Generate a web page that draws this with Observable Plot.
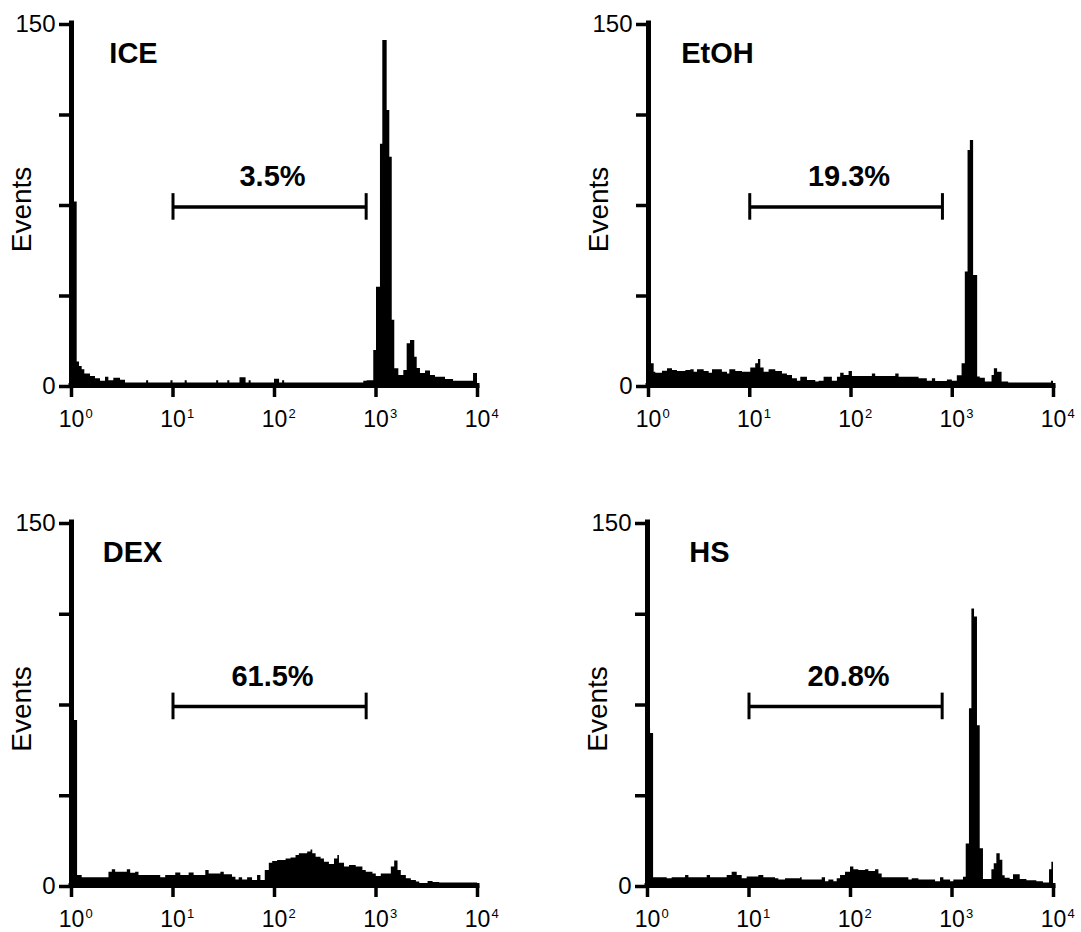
<!DOCTYPE html>
<html><head><meta charset="utf-8">
<script src="https://cdn.jsdelivr.net/npm/d3@7"></script>
<script src="https://cdn.jsdelivr.net/npm/@observablehq/plot@0.6"></script>
<style>
body{margin:0;background:#fff;width:1081px;height:932px;overflow:hidden;position:relative;font-family:"Liberation Sans",Arial,Helvetica,sans-serif;}
.panel{position:absolute;}
</style></head><body>
<div id="p0" class="panel" style="left:0px;top:0px"></div>
<div id="p1" class="panel" style="left:577px;top:0px"></div>
<div id="p2" class="panel" style="left:0px;top:499px"></div>
<div id="p3" class="panel" style="left:576px;top:499px"></div>
<script>
// ---- data ----
const xTickValues = [1, 10, 100, 1000, 10000];
const xTickExponents = ["0", "1", "2", "3", "4"];
const yTicks = [0, 37.5, 75, 112.5, 150];
const yTickLabeled = [0, 150];
const titles = ["ICE", "EtOH", "DEX", "HS"];
const gatePercents = ["3.5%", "19.3%", "61.5%", "20.8%"];
const gateRange = [10, 800];
const gateLevel = 74;
const yLabel = "Events";

// histogram bins: start position (log10 of channel) and event count
const iceD = [0, 0.056, 0.079, 0.105, 0.131, 0.187, 0.236, 0.286, 0.335, 0.368, 0.417, 0.483, 0.532, 0.74, 0.76, 0.98, 1.0, 1.12, 1.14, 1.43, 1.45, 1.54, 1.56, 1.66, 1.72, 1.75, 1.77, 2.0, 2.05, 2.08, 2.10, 2.88, 2.913, 2.978, 3.005, 3.044, 3.067, 3.110, 3.136, 3.160, 3.185, 3.225, 3.274, 3.307, 3.340, 3.382, 3.406, 3.438, 3.488, 3.537, 3.586, 3.685, 3.764, 3.961, 4.0];
const iceC = [76, 9.7, 7.9, 6.5, 4.8, 3.7, 2.8, 1.8, 3.4, 2, 3.0, 2.2, 1, 2, 1, 2, 1, 2, 1, 2, 1, 2, 1, 3.2, 1, 2, 1, 2.6, 1, 2, 1, 1.8, 2, 14.5, 40.7, 100, 143, 114, 94.6, 27, 6.9, 4.1, 6.2, 17.3, 18.6, 11.7, 7, 5, 6, 4.1, 3.4, 2.5, 1.8, 5, 5];

const etohD = [0, 0.023, 0.056, 0.072, 0.138, 0.188, 0.237, 0.286, 0.369, 0.418, 0.451, 0.484, 0.550, 0.599, 0.632, 0.730, 0.780, 0.803, 0.862, 0.928, 1.010, 1.059, 1.086, 1.109, 1.142, 1.191, 1.257, 1.323, 1.372, 1.422, 1.471, 1.504, 1.570, 1.652, 1.685, 1.734, 1.816, 1.866, 1.898, 1.932, 1.981, 2.014, 2.211, 2.244, 2.442, 2.475, 2.672, 2.754, 2.804, 2.836, 2.952, 3.001, 3.050, 3.097, 3.129, 3.156, 3.179, 3.211, 3.251, 3.277, 3.327, 3.393, 3.416, 3.448, 3.492, 3.557, 3.98, 4.0];
const etohC = [9.5, 9, 5.5, 5.1, 5.9, 6.9, 6.2, 5.8, 6.2, 6.5, 5.5, 6.5, 5.8, 5.1, 6.5, 5.5, 4.8, 6.5, 5.8, 5.5, 7.3, 9, 10.8, 7.3, 5.5, 6.5, 5.8, 4.8, 4.1, 2.8, 1.8, 3.4, 2.1, 1.4, 1.8, 3.4, 1.8, 3.4, 5.1, 4.1, 5.8, 3.7, 4.8, 3.7, 4.8, 3.4, 2.8, 1.8, 2.8, 1.7, 2.3, 1.8, 4.0, 9, 47, 97.4, 101.5, 45.6, 3.5, 3, 1.5, 4.1, 6.9, 5.5, 1.5, 1, 1.8, 1.8];

const dexD = [0, 0.06, 0.105, 0.369, 0.402, 0.435, 0.550, 0.583, 0.632, 0.665, 0.879, 0.928, 1.027, 1.077, 1.159, 1.208, 1.323, 1.356, 1.472, 1.505, 1.586, 1.620, 1.652, 1.686, 1.735, 1.784, 1.833, 1.866, 1.909, 1.949, 1.982, 2.031, 2.114, 2.163, 2.212, 2.245, 2.327, 2.360, 2.377, 2.410, 2.459, 2.492, 2.541, 2.591, 2.624, 2.640, 2.690, 2.739, 2.805, 2.871, 2.904, 2.970, 3.003, 3.052, 3.151, 3.184, 3.217, 3.249, 3.299, 3.348, 3.398, 3.431, 3.513, 3.562, 3.628, 4.0];
const dexC = [68.2, 4.1, 3.2, 5.5, 6.5, 5.5, 6.5, 5.1, 5.5, 4.1, 3.2, 4.1, 5.2, 4.1, 5.2, 4.1, 6.2, 4.8, 5.5, 4.4, 3.4, 2.3, 3.2, 2.3, 3.2, 2.1, 4.1, 2.1, 6.2, 9.2, 9.9, 10.3, 11, 11.4, 12.4, 13.1, 13.8, 14.7, 13.1, 11.7, 11, 9.6, 8.7, 11, 12.4, 9.2, 7.6, 8.3, 7.6, 6.2, 5.5, 4.8, 3.7, 4.8, 7.6, 10.1, 6.2, 4.1, 2.8, 2.1, 1.4, 0.7, 1.7, 1.2, 1.0, 1.0];

const hsD = [0, 0.03, 0.06, 0.194, 0.243, 0.375, 0.408, 0.588, 0.621, 0.785, 0.834, 0.884, 0.933, 0.982, 1.097, 1.146, 1.261, 1.294, 1.360, 1.508, 1.524, 1.721, 1.754, 1.787, 1.836, 1.869, 1.902, 1.951, 2.000, 2.033, 2.082, 2.148, 2.181, 2.247, 2.280, 2.312, 2.575, 2.608, 2.674, 2.838, 2.887, 2.920, 2.986, 3.018, 3.113, 3.140, 3.172, 3.196, 3.222, 3.251, 3.278, 3.310, 3.393, 3.416, 3.442, 3.475, 3.501, 3.524, 3.573, 3.606, 3.672, 3.738, 3.836, 3.901, 3.961, 3.984, 4.0];
const hsC = [65, 62.8, 3.2, 2.8, 3.2, 4.1, 3.2, 4.1, 3.2, 4.1, 5.5, 4.1, 2.8, 3.5, 4.1, 3.2, 2.8, 2.3, 2.8, 3.2, 2.3, 3.2, 1.6, 2.3, 1.6, 2.8, 4.1, 5.5, 7.6, 6.5, 6.2, 6.5, 5.8, 6.5, 4.8, 3.2, 2.3, 2.8, 2.3, 1.6, 3.2, 2.3, 1.6, 2.3, 3.4, 17.2, 73, 114.3, 111, 66, 15.2, 2.5, 6.5, 9, 13.1, 10.4, 4, 3, 2.5, 4.4, 2.5, 2, 1.6, 1, 6.5, 9.6, 9.6];

// ---- layout (not data) ----
const layouts = [
  {id: "p0", width: 540, height: 470, ml: 71, mr: 63, mt: 23, mb: 85, titleDx: 62},
  {id: "p1", width: 504, height: 470, ml: 71, mr: 28, mt: 23, mb: 85, titleDx: 69},
  {id: "p2", width: 540, height: 433, ml: 71, mr: 63, mt: 23, mb: 47, titleDx: 61},
  {id: "p3", width: 505, height: 433, ml: 71, mr: 28, mt: 23, mb: 47, titleDx: 62}
];
const series = [[iceD, iceC], [etohD, etohC], [dexD, dexC], [hsD, hsC]];
const FONT = '"Liberation Sans", Arial, Helvetica, sans-serif';

series.forEach(([D, C], i) => {
  const L = layouts[i];
  const data = D.map((d, j) => ({x: Math.pow(10, d), y: C[j]}));
  const expData = xTickValues.map((v, j) => ({x: v, e: xTickExponents[j]}));
  const chart = Plot.plot({
    width: L.width, height: L.height,
    marginLeft: L.ml, marginRight: L.mr, marginTop: L.mt, marginBottom: L.mb,
    style: {fontFamily: FONT, background: "white", color: "black", overflow: "visible"},
    x: {type: "log", domain: [1, 10000], axis: null},
    y: {domain: [0, 150], axis: null},
    marks: [
      Plot.areaY(data, {x: "x", y: "y", curve: "step-after", fill: "black"}),
      Plot.axisY({ticks: yTicks, anchor: "left", tickSize: 12, tickPadding: 4, strokeWidth: 3.5,
        tickFormat: v => yTickLabeled.includes(v) ? String(v) : "", fontSize: 24, label: null, dy: 1}),
      Plot.axisX({ticks: xTickValues, anchor: "bottom", tickSize: 12, strokeWidth: 3.5, tickFormat: () => "", label: null}),
      Plot.ruleX([1], {stroke: "black", strokeWidth: 5, strokeLinecap: "square"}),
      Plot.ruleY([0], {stroke: "black", strokeWidth: 5, strokeLinecap: "square"}),
      Plot.text(xTickValues, {x: v => v, frameAnchor: "bottom", dy: 34, dx: 0, text: () => "10", fontSize: 23, lineAnchor: "middle", textAnchor: "middle"}),
      Plot.text(expData, {x: "x", text: "e", frameAnchor: "bottom", dy: 28, dx: 14, fontSize: 13, lineAnchor: "middle", textAnchor: "start"}),
      Plot.text([yLabel], {frameAnchor: "left", dx: -49, dy: 5, rotate: -90, fontSize: 28, lineAnchor: "middle", textAnchor: "middle"}),
      Plot.text([titles[i]], {frameAnchor: "top-left", dx: L.titleDx, dy: 30.5, fontSize: 29, fontWeight: "bold", textAnchor: "middle", lineAnchor: "middle"}),
      Plot.ruleY([gateLevel], {x1: gateRange[0], x2: gateRange[1], stroke: "black", strokeWidth: 3.5}),
      Plot.ruleX(gateRange, {y1: gateLevel - 5.5, y2: gateLevel + 5.5, stroke: "black", strokeWidth: 3}),
      Plot.text([gatePercents[i]], {x: 100, y: gateLevel, dy: -30, dx: -2, fontSize: 29, fontWeight: "bold", textAnchor: "middle", lineAnchor: "middle"})
    ]
  });
  document.getElementById(L.id).appendChild(chart);
});
</script>
</body></html>
